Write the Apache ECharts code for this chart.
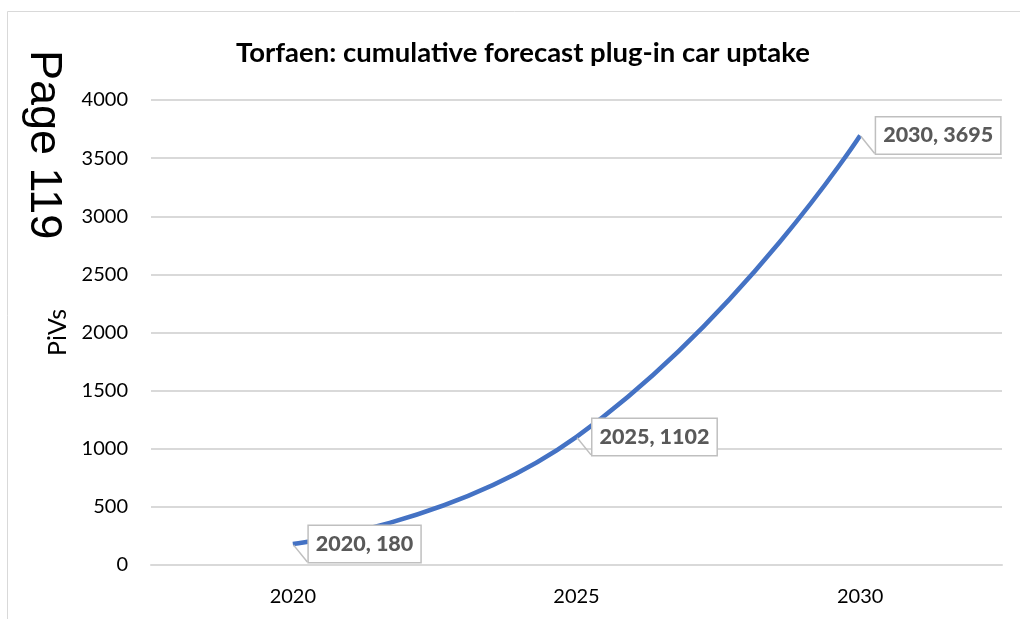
<!DOCTYPE html>
<html>
<head>
<meta charset="utf-8">
<script src="https://cdn.jsdelivr.net/npm/echarts@6/dist/echarts.min.js"></script>
<style>
  html, body { margin: 0; padding: 0; background: #fff; }
  #main { width: 1020px; height: 619px; }
</style>
</head>
<body>
<div id="main"></div>
<script>
// data
var years = ['2020', '2025', '2030'];
var plugins = [180, 1102, 3695];
var yTicks = [0, 500, 1000, 1500, 2000, 2500, 3000, 3500, 4000];

var myChart = echarts.init(document.getElementById('main'));

var option = {
  backgroundColor: '#fff',
  textStyle: { fontFamily: 'Lato' },
  title: {
    text: 'Torfaen: cumulative forecast plug-in car uptake',
    left: 518,
    textAlign: 'center',
    top: 34,
    textStyle: { fontSize: 27.5, fontWeight: 'bold', color: '#000', fontFamily: 'Lato' }
  },
  graphic: [
    { // chart frame
      type: 'rect',
      shape: { x: 7.5, y: 11.5, width: 1100, height: 700 },
      style: { fill: 'none', stroke: '#d9d9d9', lineWidth: 1 },
      silent: true
    },
    { // page stamp
      type: 'text',
      x: 21, y: 50,
      rotation: -Math.PI / 2,
      style: {
        text: 'Page 119',
        font: '45px "Liberation Sans"',
        fill: '#000',
        textVerticalAlign: 'bottom'
      }
    }
  ],
  grid: { left: 151, right: 18, top: 100, bottom: 54 },
  xAxis: {
    type: 'category',
    data: years,
    boundaryGap: true,
    axisLine: { lineStyle: { color: '#d9d9d9', width: 2 } },
    axisTick: { show: false },
    axisLabel: { fontSize: 20, color: '#000', margin: 22, fontFamily: 'Lato' }
  },
  yAxis: {
    type: 'value',
    min: yTicks[0],
    max: yTicks[yTicks.length - 1],
    interval: 500,
    name: 'PiVs',
    nameLocation: 'middle',
    nameGap: 79,
    nameTextStyle: { fontSize: 25, color: '#000', fontFamily: 'Lato' },
    axisLine: { show: false },
    axisTick: { show: false },
    axisLabel: {
      fontSize: 20, color: '#000', margin: 23, fontFamily: 'Lato',
      formatter: function (v) { return String(v); }
    },
    splitLine: { lineStyle: { color: '#d9d9d9', width: 2 } }
  },
  series: [{
    type: 'line',
    data: plugins,
    smooth: 0.5,
    symbol: 'circle',
    symbolSize: 2,
    showSymbol: true,
    itemStyle: { color: 'rgba(68,114,196,0)', borderWidth: 0 },
    lineStyle: { color: '#4472c4', width: 4.5 },
    label: {
      show: true,
      position: 'right',
      distance: 15,
      formatter: function (p) { return p.name + ', ' + p.value; },
      fontSize: 21.5,
      fontWeight: 900,
      color: '#595959',
      fontFamily: 'Lato',
      backgroundColor: '#fff',
      borderColor: '#bfbfbf',
      borderWidth: 1.5,
      padding: [8, 7, 6, 7]
    },
    labelLine: { show: true, lineStyle: { color: '#bfbfbf', width: 1.5 } }
  }]
};

myChart.setOption(option);
</script>
</body>
</html>
